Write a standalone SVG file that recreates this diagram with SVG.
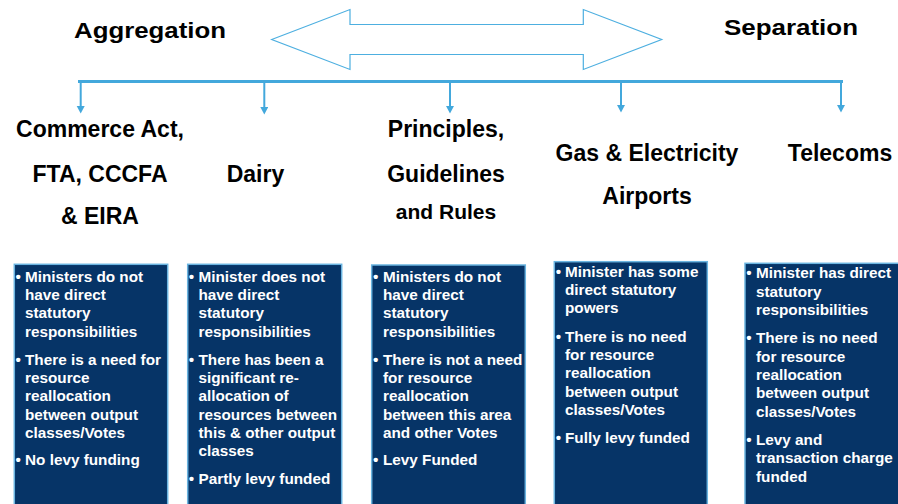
<svg xmlns="http://www.w3.org/2000/svg" width="898" height="504" viewBox="0 0 898 504">
  <defs>
    <style>
      .title { font-family: "Liberation Sans", Arial, sans-serif; font-weight: bold; font-size: 22.5px; fill: #000; }
      .head { font-family: "Liberation Sans", Arial, sans-serif; font-weight: bold; font-size: 23px; fill: #000; text-anchor: middle; }
      .box { fill: #063467; stroke: #6ab4e0; stroke-width: 1.5; }
      .bt { font-family: "Liberation Sans", Arial, sans-serif; font-weight: bold; font-size: 15.3px; fill: #fff; }
      .conn { stroke: #43a8dc; fill: none; }
    </style>
    <marker id="drop" markerUnits="userSpaceOnUse" markerWidth="9" markerHeight="9" refX="0" refY="4" orient="auto">
      <path d="M0,0 L7.5,4 L0,8 z" fill="#43a8dc"/>
    </marker>
  </defs>

  <rect width="898" height="504" fill="#fff"/>

  <!-- spectrum titles -->
  <g id="aggregation">
    <text class="title" x="74" y="37.5" textLength="152" lengthAdjust="spacingAndGlyphs">Aggregation</text>
  </g>
  <g id="separation">
    <text class="title" x="724" y="34.5" textLength="134" lengthAdjust="spacingAndGlyphs">Separation</text>
  </g>

  <!-- double-headed spectrum arrow -->
  <g id="spectrum">
    <polygon points="271.7,39.5 350,9.5 350,24.5 583.3,24.5 583.3,9.5 661.7,39.5 583.3,69.5 583.3,54.5 350,54.5 350,69.5" fill="#fff" stroke="#4dafe0" stroke-width="1.2"/>
  </g>

  <!-- bus line with drops to each regime -->
  <g id="connectors" class="conn">
    <line x1="78" y1="81.5" x2="843" y2="81.5" stroke-width="3"/>
    <line x1="80.7" y1="81" x2="80.7" y2="106" stroke-width="2" marker-end="url(#drop)"/>
    <line x1="264.3" y1="81" x2="264.3" y2="107" stroke-width="2" marker-end="url(#drop)"/>
    <line x1="450" y1="81" x2="450" y2="106" stroke-width="2" marker-end="url(#drop)"/>
    <line x1="621" y1="81" x2="621" y2="105" stroke-width="2" marker-end="url(#drop)"/>
    <line x1="841" y1="81" x2="841" y2="105" stroke-width="2" marker-end="url(#drop)"/>
  </g>

  <!-- column 1 -->
  <g id="commerce-act">
    <text class="head" x="100" y="137">Commerce Act,</text>
    <text class="head" x="100" y="181.5">FTA, CCCFA</text>
    <text class="head" x="100" y="224">&amp; EIRA</text>
  </g>
  <g id="commerce-act-box">
    <rect class="box" x="14.3" y="264.3" width="153.4" height="245"/>
    <text class="bt" x="15.5" y="281.7">•</text>
    <text class="bt" x="25" y="281.7">Ministers do not</text>
    <text class="bt" x="25" y="300">have direct</text>
    <text class="bt" x="25" y="318.3">statutory</text>
    <text class="bt" x="25" y="336.6">responsibilities</text>
    <text class="bt" x="15.5" y="365">•</text>
    <text class="bt" x="25" y="365">There is a need for</text>
    <text class="bt" x="25" y="383.2">resource</text>
    <text class="bt" x="25" y="401.4">reallocation</text>
    <text class="bt" x="25" y="419.6">between output</text>
    <text class="bt" x="25" y="437.8">classes/Votes</text>
    <text class="bt" x="15.5" y="465">•</text>
    <text class="bt" x="25" y="465">No levy funding</text>
  </g>

  <!-- column 2 -->
  <g id="dairy">
    <text class="head" x="255.5" y="181.5">Dairy</text>
  </g>
  <g id="dairy-box">
    <rect class="box" x="187.7" y="264.3" width="154" height="245"/>
    <text class="bt" x="188.8" y="281.7">•</text>
    <text class="bt" x="198.5" y="281.7">Minister does not</text>
    <text class="bt" x="198.5" y="300">have direct</text>
    <text class="bt" x="198.5" y="318.3">statutory</text>
    <text class="bt" x="198.5" y="336.6">responsibilities</text>
    <text class="bt" x="188.8" y="365">•</text>
    <text class="bt" x="198.5" y="365">There has been a</text>
    <text class="bt" x="198.5" y="383.2">significant re-</text>
    <text class="bt" x="198.5" y="401.4">allocation of</text>
    <text class="bt" x="198.5" y="419.6">resources between</text>
    <text class="bt" x="198.5" y="437.8">this &amp; other output</text>
    <text class="bt" x="198.5" y="456">classes</text>
    <text class="bt" x="188.8" y="484.4">•</text>
    <text class="bt" x="198.5" y="484.4">Partly levy funded</text>
  </g>

  <!-- column 3 -->
  <g id="principles">
    <text class="head" x="446" y="137">Principles,</text>
    <text class="head" x="446" y="181.5">Guidelines</text>
    <text class="head" x="446" y="219" style="font-size:21px">and Rules</text>
  </g>
  <g id="principles-box">
    <rect class="box" x="371.7" y="265" width="153.6" height="245"/>
    <text class="bt" x="373" y="281.7">•</text>
    <text class="bt" x="383" y="281.7">Ministers do not</text>
    <text class="bt" x="383" y="300">have direct</text>
    <text class="bt" x="383" y="318.3">statutory</text>
    <text class="bt" x="383" y="336.6">responsibilities</text>
    <text class="bt" x="373" y="365">•</text>
    <text class="bt" x="383" y="365">There is not a need</text>
    <text class="bt" x="383" y="383.2">for resource</text>
    <text class="bt" x="383" y="401.4">reallocation</text>
    <text class="bt" x="383" y="419.6">between this area</text>
    <text class="bt" x="383" y="437.8">and other Votes</text>
    <text class="bt" x="373" y="465">•</text>
    <text class="bt" x="383" y="465">Levy Funded</text>
  </g>

  <!-- column 4 -->
  <g id="gas-electricity">
    <text class="head" x="647" y="161">Gas &amp; Electricity</text>
    <text class="head" x="647" y="204">Airports</text>
  </g>
  <g id="gas-electricity-box">
    <rect class="box" x="554.3" y="261.7" width="153" height="248"/>
    <text class="bt" x="555.8" y="277">•</text>
    <text class="bt" x="565" y="277">Minister has some</text>
    <text class="bt" x="565" y="295.2">direct statutory</text>
    <text class="bt" x="565" y="313.4">powers</text>
    <text class="bt" x="555.8" y="341.7">•</text>
    <text class="bt" x="565" y="341.7">There is no need</text>
    <text class="bt" x="565" y="360">for resource</text>
    <text class="bt" x="565" y="378.3">reallocation</text>
    <text class="bt" x="565" y="396.6">between output</text>
    <text class="bt" x="565" y="414.9">classes/Votes</text>
    <text class="bt" x="555.8" y="443.3">•</text>
    <text class="bt" x="565" y="443.3">Fully levy funded</text>
  </g>

  <!-- column 5 -->
  <g id="telecoms">
    <text class="head" x="840" y="161">Telecoms</text>
  </g>
  <g id="telecoms-box">
    <rect class="box" x="745" y="263.3" width="155" height="247"/>
    <text class="bt" x="746.3" y="278.3">•</text>
    <text class="bt" x="756" y="278.3">Minister has direct</text>
    <text class="bt" x="756" y="296.6">statutory</text>
    <text class="bt" x="756" y="314.9">responsibilities</text>
    <text class="bt" x="746.3" y="343.3">•</text>
    <text class="bt" x="756" y="343.3">There is no need</text>
    <text class="bt" x="756" y="361.6">for resource</text>
    <text class="bt" x="756" y="379.9">reallocation</text>
    <text class="bt" x="756" y="398.2">between output</text>
    <text class="bt" x="756" y="416.5">classes/Votes</text>
    <text class="bt" x="746.3" y="445">•</text>
    <text class="bt" x="756" y="445">Levy and</text>
    <text class="bt" x="756" y="463.3">transaction charge</text>
    <text class="bt" x="756" y="481.6">funded</text>
  </g>
</svg>
